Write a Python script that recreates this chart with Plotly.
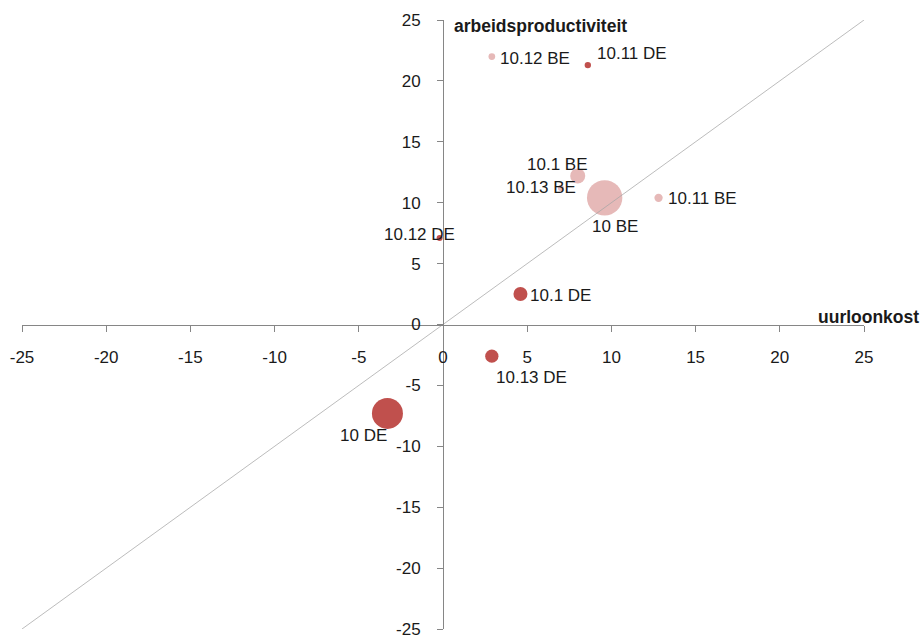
import plotly.graph_objects as go

# Sector growth: hourly labour cost (x) vs labour productivity (y), bubble = weight
be_labels = ["10.12 BE", "10.1 BE", "10.13 BE", "10 BE", "10.11 BE"]
be_x = [2.9, 8.0, 7.0, 9.6, 12.8]
be_y = [22.0, 12.2, 11.2, 10.4, 10.4]
be_weight = [3.6, 18.0, 0.7, 100.0, 5.5]

de_labels = ["10.11 DE", "10.12 DE", "10.1 DE", "10.13 DE", "10 DE"]
de_x = [8.6, -0.2, 4.6, 2.9, -3.3]
de_y = [21.3, 7.1, 2.5, -2.6, -7.3]
de_weight = [3.2, 0.7, 15.6, 14.1, 76.7]

diag = [-25, 25]
tick_vals = [-25, -20, -15, -10, -5, 0, 5, 10, 15, 20, 25]

FONT = "Liberation Sans, Arial, sans-serif"
PINK = "#E6B9B8"
RED = "#C0504D"
AXIS = "#868686"
TEXT = "#1a1a1a"
SIZEREF = 2 * 100.0 / (35.4 ** 2)

fig = go.Figure()
fig.add_trace(go.Scatter(
    x=be_x, y=be_y, mode="markers", name="BE",
    marker=dict(size=be_weight, sizemode="area", sizeref=SIZEREF, sizemin=3,
                color=PINK, line=dict(width=0), opacity=1),
    hoverinfo="text", text=be_labels, cliponaxis=False,
))
fig.add_trace(go.Scatter(
    x=de_x, y=de_y, mode="markers", name="DE",
    marker=dict(size=de_weight, sizemode="area", sizeref=SIZEREF, sizemin=3,
                color=RED, line=dict(width=0), opacity=1),
    hoverinfo="text", text=de_labels, cliponaxis=False,
))
# 45-degree reference line
fig.add_trace(go.Scatter(
    x=diag, y=diag, mode="lines", line=dict(color="#A6A6A6", width=0.75),
    hoverinfo="skip", cliponaxis=False,
))

# label placement: (xanchor, xshift, yshift) in pixels around each bubble
label_offsets = {
    "10.12 BE": ("left", 6, -2),
    "10.1 BE": ("center", -20, 11),
    "10.13 BE": ("right", 17, 1),
    "10 BE": ("center", 10, -29),
    "10.11 BE": ("left", 7, -1),
    "10.11 DE": ("left", 7, 12),
    "10.12 DE": ("center", -20, 4),
    "10.1 DE": ("left", 8, -1),
    "10.13 DE": ("left", 2, -21),
    "10 DE": ("center", -24, -22),
}
annotations = []
for labels, xs, ys in ((be_labels, be_x, be_y), (de_labels, de_x, de_y)):
    for lab, xv, yv in zip(labels, xs, ys):
        anc, dx, dy = label_offsets[lab]
        annotations.append(dict(
            x=xv, y=yv, xref="x", yref="y", text=lab, showarrow=False,
            xanchor=anc, yanchor="middle", xshift=dx, yshift=dy,
            font=dict(family=FONT, size=17, color=TEXT),
        ))

annotations.append(dict(
    x=0, y=25, xref="x", yref="y", text="<b>arbeidsproductiviteit</b>",
    showarrow=False, xanchor="left", yanchor="middle", xshift=9, yshift=-6,
    font=dict(family=FONT, size=17.5, color=TEXT),
))
annotations.append(dict(
    x=25, y=0, xref="x", yref="y", text="<b>uurloonkost</b>",
    showarrow=False, xanchor="right", yanchor="middle", xshift=57, yshift=8,
    font=dict(family=FONT, size=17.5, color=TEXT),
))

axis_common = dict(
    tickvals=tick_vals, ticktext=[str(v) for v in tick_vals],
    showgrid=False, zeroline=False, showline=True, linecolor=AXIS, linewidth=1,
    ticks="outside", ticklen=6, tickwidth=1, tickcolor=AXIS,
    tickfont=dict(family=FONT, size=17, color=TEXT),
    ticklabeloverflow="allow", automargin=False,
    anchor="free", position=0.5, fixedrange=True,
)

fig.update_layout(
    width=922, height=639,
    margin=dict(l=22, r=58, t=20, b=10, autoexpand=False),
    paper_bgcolor="white", plot_bgcolor="white",
    showlegend=False,
    xaxis=dict(**axis_common, range=[-25, 25], side="bottom", ticklabelstandoff=11),
    yaxis=dict(**axis_common, range=[-25, 25], side="left", ticklabelstandoff=13),
    annotations=annotations,
)

fig.write_html("out.html")
